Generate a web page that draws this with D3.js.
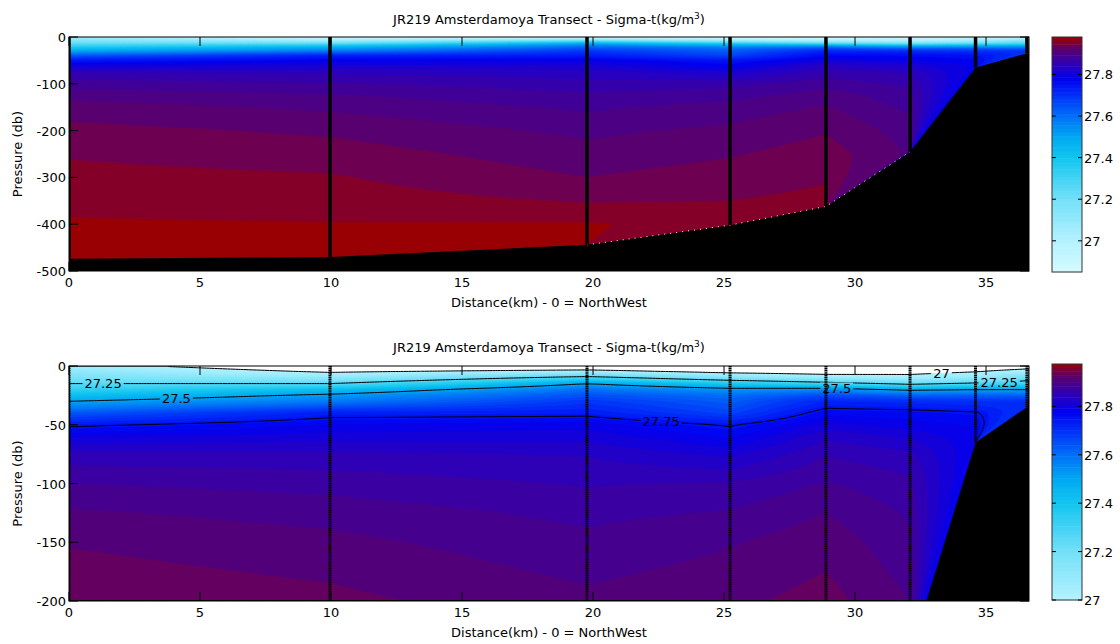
<!DOCTYPE html>
<html><head><meta charset="utf-8">
<script src="https://cdn.jsdelivr.net/npm/d3@7"></script>
<style>body{margin:0;background:#fff;} text{font-family:"DejaVu Sans",Arial,sans-serif;fill:#000;}</style>
</head><body><svg id="chart" width="1120" height="644"></svg>
<script>
// ---------------- data ----------------
const stationDist = [0, 9.96, 19.77, 25.23, 28.89, 32.1, 34.6, 36.56];
const stationDepth = [474, 470, 444, 402, 362, 245, 65, 35];
const pressureLevels = [0,5,10,15,20,25,30,40,50,60,75,100,125,150,200,250,300,350,400,450,480];
const sigmaSt0 = [27.05,27.12,27.18,27.25,27.33,27.42,27.5,27.64,27.74,27.795,27.848,27.88,27.903,27.918,27.937,27.948,27.956,27.965,27.972,27.976,27.98];
const sigmaSt1 = [26.9,26.99,27.1,27.25,27.42,27.52,27.58,27.73,27.78,27.81,27.845,27.872,27.892,27.906,27.926,27.94,27.952,27.96,27.971,27.976];
const sigmaSt2 = [26.9,27.05,27.3,27.5,27.6,27.65,27.69,27.735,27.79,27.812,27.838,27.858,27.874,27.886,27.905,27.918,27.93,27.948,27.972];
const sigmaSt3 = [26.88,26.97,27.15,27.38,27.53,27.6,27.63,27.67,27.745,27.775,27.815,27.862,27.882,27.898,27.915,27.928,27.94,27.95,27.96];
const sigmaSt4 = [26.88,26.94,27.08,27.3,27.55,27.66,27.72,27.77,27.805,27.835,27.858,27.882,27.9,27.912,27.928,27.94,27.948,27.955];
const sigmaSt5 = [26.9,26.96,27.05,27.22,27.48,27.62,27.71,27.765,27.79,27.815,27.845,27.865,27.877,27.885,27.9,27.908];
const sigmaSt6 = [26.92,27.0,27.1,27.27,27.5,27.63,27.7,27.755,27.775,27.785];
const sigmaSt7 = [26.95,27.05,27.2,27.3,27.5,27.62,27.7];
const sigmaProfiles = [sigmaSt0,sigmaSt1,sigmaSt2,sigmaSt3,sigmaSt4,sigmaSt5,sigmaSt6,sigmaSt7];

const xTicks = [0,5,10,15,20,25,30,35];
const yTicksTop = [0,-100,-200,-300,-400,-500];
const yTicksBottom = [0,-50,-100,-150,-200];
const cbTicks = [27,27.2,27.4,27.6,27.8];
const contourLevels = [27,27.25,27.5,27.75];
const labelLevels = [27.25,27.5,27.75,27.5,27,27.25];
const labelDist = [1.3,4.1,22.6,29.3,33.3,35.5];

const titleText = "JR219 Amsterdamoya Transect - Sigma-t(kg/m";
const xLabel = "Distance(km) -  0 = NorthWest";
const yLabel = "Pressure (db)";

// colormap (value -> colour)
const cmapVals = [26.85,27.0,27.2,27.4,27.5,27.6,27.7,27.78,27.84,27.88,27.92,27.95,27.975];
const cmapColors = ["#d4fbff","#b4f2ff","#74e0f8","#12c6f0","#00a8f2","#0070f8","#0030f8","#0000f0","#2800c0","#400098","#580070","#780040","#980004"];
const cmap = d3.scaleLinear().domain(cmapVals).range(cmapColors).clamp(true);

// ---------------- field ----------------
const xMax = 36.64;
function profile(s, p) {
  const v = sigmaProfiles[s], n = v.length;
  if (p <= pressureLevels[0]) return v[0];
  for (let k = 0; k < n - 1; k++) {
    if (p <= pressureLevels[k+1]) {
      const t = (p - pressureLevels[k]) / (pressureLevels[k+1] - pressureLevels[k]);
      return v[k] + t * (v[k+1] - v[k]);
    }
  }
  return v[n-1];
}
function fieldAt(x, p) {
  const nodes = [], N = stationDist.length;
  for (let i = 0; i < N; i++) {
    const wet = stationDepth[i] >= p;
    if (wet) nodes.push([stationDist[i], profile(i, p)]);
    if (i < N - 1) {
      const wetN = stationDepth[i+1] >= p;
      if (wet !== wetN) {
        const t = (p - stationDepth[i]) / (stationDepth[i+1] - stationDepth[i]);
        const xc = stationDist[i] + t * (stationDist[i+1] - stationDist[i]);
        nodes.push([xc, profile(wet ? i+1 : i, p)]);
      }
    }
  }
  if (!nodes.length) return profile(0, p);
  if (x <= nodes[0][0]) return nodes[0][1];
  for (let k = 0; k < nodes.length - 1; k++) {
    if (x <= nodes[k+1][0]) {
      const t = (x - nodes[k][0]) / (nodes[k+1][0] - nodes[k][0] || 1);
      return nodes[k][1] + t * (nodes[k+1][1] - nodes[k][1]);
    }
  }
  return nodes[nodes.length-1][1];
}

// ---------------- drawing ----------------
const svg = d3.select("#chart");
const panels = [
  {top:37, bottom:271, pMax:500, yTicks:yTicksTop, clim:[26.85,27.98], cbTop:37, cbBottom:272, lines:false, solid:true, titleY:24},
  {top:366, bottom:601, pMax:200, yTicks:yTicksBottom, clim:[27.0,27.975], cbTop:364, cbBottom:600, lines:true, solid:false, titleY:352}
];
const L = 69, R = 1029, cbL = 1052, cbR = 1082, bandStep = 0.02, FS = 13;

panels.forEach((P, pi) => {
  const x = d3.scaleLinear().domain([0, xMax]).range([L, R]);
  const y = d3.scaleLinear().domain([-P.pMax, 0]).range([P.bottom, P.top]);
  const g = svg.append("g");
  const clipId = "clip" + pi;
  svg.append("defs").append("clipPath").attr("id", clipId)
    .append("rect").attr("x", L).attr("y", P.top).attr("width", R - L).attr("height", P.bottom - P.top);
  const plot = g.append("g").attr("clip-path", `url(#${clipId})`);

  // grid
  const nx = 366, ny = P.pMax === 500 ? 250 : 200;
  const values = new Float64Array(nx * ny);
  for (let j = 0; j < ny; j++) {
    const p = (j + 0.5) / ny * P.pMax;
    for (let i = 0; i < nx; i++) {
      values[j*nx + i] = fieldAt((i + 0.5) / nx * xMax, p);
    }
  }
  const proj = d3.geoTransform({point(gx, gy) { this.stream.point(x(gx / nx * xMax), y(-gy / ny * P.pMax)); }});
  const path = d3.geoPath(proj);
  const thresholds = d3.range(P.clim[0], P.clim[1], bandStep);
  const filled = d3.contours().size([nx, ny]).thresholds(thresholds)(values);
  plot.append("g").selectAll("path").data(filled).join("path")
    .attr("d", path).attr("fill", d => cmap(d.value + bandStep / 2))
    .attr("stroke", d => cmap(d.value + bandStep / 2)).attr("stroke-width", 0.4);

  if (P.lines) {
    const maskId = "mask" + pi;
    const mask = svg.append("defs").append("mask").attr("id", maskId);
    mask.append("rect").attr("x", 0).attr("y", 0).attr("width", 1120).attr("height", 644).attr("fill", "#fff");
    const labels = labelLevels.map((lv, k) => {
      const d = labelDist[k];
      let pFound = 0;
      for (let p = 0; p <= P.pMax; p += 0.25) {
        const a = fieldAt(d, p), b = fieldAt(d, p + 0.25);
        if ((a - lv) * (b - lv) <= 0) { pFound = p + 0.125; break; }
      }
      return {lv, d, p: pFound};
    });
    const lineG = plot.append("g").attr("mask", `url(#${maskId})`);
    const iso = d3.contours().size([nx, ny]).thresholds(contourLevels)(values);
    lineG.selectAll("path").data(iso).join("path").attr("d", path)
      .attr("fill", "none").attr("stroke", "#000").attr("stroke-width", 1);
    labels.forEach(lb => {
      const t = String(lb.lv);
      const txt = g.append("text").attr("x", x(lb.d)).attr("y", y(-lb.p) + 4.5).attr("text-anchor", "middle")
        .attr("font-size", FS).text(t);
      const w = txt.node().getComputedTextLength() + 4;
      mask.append("rect").attr("x", x(lb.d) - w/2).attr("y", y(-lb.p) - 6).attr("width", w).attr("height", 12).attr("fill", "#000");
    });
  }

  // seabed
  const bed = stationDist.map((d, i) => [d, -stationDepth[i]]);
  bed.push([xMax, -stationDepth[stationDepth.length-1]], [xMax, -P.pMax - 10], [0, -P.pMax - 10]);
  plot.append("path").datum(bed)
    .attr("d", d3.line().x(d => x(d[0])).y(d => y(d[1])))
    .attr("fill", "#000");
  if (P.solid) {
    const edge = bed.slice(2, 6);
    plot.append("path").datum(edge)
      .attr("d", d3.line().x(d => x(d[0])).y(d => y(d[1])))
      .attr("fill", "none").attr("stroke", "#fff").attr("stroke-width", 1).attr("stroke-dasharray", "1,5");
  }

  // station lines
  plot.append("g").selectAll("line").data(stationDist).join("line")
    .attr("x1", d => x(d)).attr("x2", d => x(d))
    .attr("y1", y(0)).attr("y2", (d, i) => y(-Math.min(stationDepth[i], P.pMax)))
    .attr("stroke", "#000").attr("stroke-width", P.solid ? 3.5 : 3)
    .attr("stroke-dasharray", P.solid ? null : "1.3,0.5");

  // axes frame & ticks
  const tl = 9;
  g.append("rect").attr("x", L).attr("y", P.top).attr("width", R - L).attr("height", P.bottom - P.top)
    .attr("fill", "none").attr("stroke", "#000").attr("stroke-width", 1);
  xTicks.forEach(t => {
    g.append("line").attr("x1", x(t)).attr("x2", x(t)).attr("y1", P.bottom).attr("y2", P.bottom - tl).attr("stroke", "#000");
    g.append("line").attr("x1", x(t)).attr("x2", x(t)).attr("y1", P.top).attr("y2", P.top + tl).attr("stroke", "#000");
    g.append("text").attr("x", x(t)).attr("y", P.bottom + 16).attr("text-anchor", "middle").attr("font-size", FS).text(t);
  });
  P.yTicks.forEach(t => {
    g.append("line").attr("x1", L).attr("x2", L + tl).attr("y1", y(t)).attr("y2", y(t)).attr("stroke", "#000");
    g.append("line").attr("x1", R).attr("x2", R - tl).attr("y1", y(t)).attr("y2", y(t)).attr("stroke", "#000");
    g.append("text").attr("x", L - 3).attr("y", y(t) + 5).attr("text-anchor", "end").attr("font-size", FS).text(t);
  });
  const title = g.append("text").attr("x", (L + R) / 2).attr("y", P.titleY).attr("text-anchor", "middle").attr("font-size", FS);
  title.append("tspan").text(titleText);
  title.append("tspan").attr("dy", -5).attr("font-size", 9).text("3");
  title.append("tspan").attr("dy", 5).text(")");
  g.append("text").attr("x", (L + R) / 2).attr("y", P.bottom + 36).attr("text-anchor", "middle").attr("font-size", FS).text(xLabel);
  g.append("text").attr("transform", `translate(22,${(P.top + P.bottom) / 2}) rotate(-90)`).attr("text-anchor", "middle")
    .attr("font-size", FS).text(yLabel);

  // colorbar
  const cy = d3.scaleLinear().domain(P.clim).range([P.cbBottom, P.cbTop]);
  const nSteps = 64, step = (P.clim[1] - P.clim[0]) / nSteps;
  const cbVals = d3.range(nSteps).map(k => P.clim[0] + k * step);
  g.append("g").selectAll("rect").data(cbVals).join("rect")
    .attr("x", cbL).attr("width", cbR - cbL)
    .attr("y", d => cy(d + step)).attr("height", d => cy(d) - cy(d + step) + 0.5)
    .attr("fill", d => cmap(d + step / 2));
  g.append("rect").attr("x", cbL).attr("y", P.cbTop).attr("width", cbR - cbL).attr("height", P.cbBottom - P.cbTop)
    .attr("fill", "none").attr("stroke", "#333").attr("stroke-width", 1);
  cbTicks.forEach(t => {
    g.append("line").attr("x1", cbL).attr("x2", cbL + 4).attr("y1", cy(t)).attr("y2", cy(t)).attr("stroke", "#000");
    g.append("line").attr("x1", cbR).attr("x2", cbR - 4).attr("y1", cy(t)).attr("y2", cy(t)).attr("stroke", "#000");
    g.append("text").attr("x", cbR + 2).attr("y", cy(t) + 5).attr("font-size", FS).text(t);
  });
});
</script></body></html>
